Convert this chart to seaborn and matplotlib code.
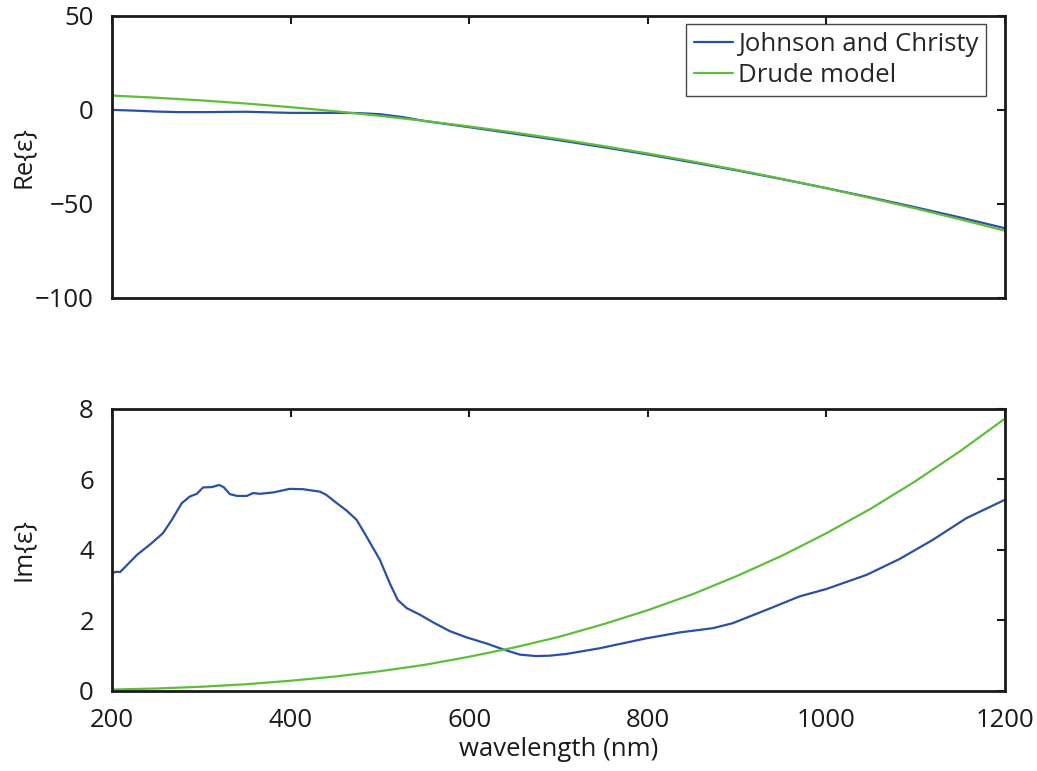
import numpy as np
import pandas as pd
import matplotlib
matplotlib.use("Agg")
import matplotlib.pyplot as plt
import seaborn as sns

# Gold permittivity: Johnson & Christy measurements vs. a Drude fit
lam_re_jc = [200, 225, 250, 275, 300, 325, 350, 375, 400, 450, 475, 500, 525, 550,
             600, 650, 700, 750, 800, 850, 900, 950, 1000, 1050, 1100, 1150, 1200]
re_jc = [0.0, -0.4, -0.9, -1.2, -1.2, -1.1, -1.0, -1.3, -1.6, -1.6, -1.7, -2.3, -3.8, -5.9,
         -9.2, -12.6, -16.1, -19.8, -23.7, -27.9, -32.2, -36.8, -41.6, -46.6, -51.8, -57.2, -62.9]

lam_drude = [200, 250, 300, 350, 400, 450, 500, 550, 600, 650, 700, 750, 800, 850,
             900, 950, 1000, 1050, 1100, 1150, 1200]
re_drude = [7.6, 6.44, 5.03, 3.37, 1.44, -0.74, -3.18, -5.87, -8.82, -12.02, -15.49,
            -19.21, -23.18, -27.41, -31.90, -36.65, -41.65, -46.91, -52.42, -58.19, -64.22]
im_drude = [0.04, 0.07, 0.12, 0.19, 0.29, 0.41, 0.56, 0.74, 0.97, 1.23, 1.53, 1.89,
            2.29, 2.74, 3.26, 3.83, 4.47, 5.17, 5.95, 6.80, 7.72]

lam_im_jc = [200, 205, 209, 218, 228, 242, 257, 267, 278, 287, 295, 302, 312, 320, 325,
             332, 340, 351, 358, 366, 381, 399, 414, 433, 440, 452, 463, 474, 485, 500,
             511, 520, 530, 545, 560, 578, 597, 619, 638, 657, 675, 690, 709, 746, 798,
             836, 873, 895, 933, 970, 1000, 1045, 1082, 1119, 1157, 1200]
im_jc = [3.34, 3.38, 3.37, 3.60, 3.86, 4.14, 4.47, 4.85, 5.32, 5.51, 5.59, 5.77, 5.78,
         5.84, 5.78, 5.58, 5.53, 5.53, 5.61, 5.59, 5.63, 5.73, 5.72, 5.65, 5.56, 5.32,
         5.11, 4.85, 4.38, 3.72, 3.06, 2.58, 2.35, 2.16, 1.94, 1.70, 1.52, 1.35, 1.18,
         1.03, 0.99, 1.00, 1.05, 1.21, 1.49, 1.66, 1.78, 1.92, 2.30, 2.68, 2.89, 3.29,
         3.74, 4.28, 4.90, 5.42]

series_names = ["Johnson and Christy", "Drude model"]
colors = {"Johnson and Christy": "#2b4fa6", "Drude model": "#5ebe3c"}

x_ticks = [200, 400, 600, 800, 1000, 1200]
re_ticks = [50, 0, -50, -100]
im_ticks = [0, 2, 4, 6, 8]

sns.set_theme(style="white")
plt.rcParams["font.family"] = ["Open Sans", "DejaVu Sans"]
plt.rcParams["axes.unicode_minus"] = True

re_df = pd.concat([
    pd.DataFrame({"wavelength": lam_re_jc, "value": re_jc, "source": series_names[0]}),
    pd.DataFrame({"wavelength": lam_drude, "value": re_drude, "source": series_names[1]}),
])
im_df = pd.concat([
    pd.DataFrame({"wavelength": lam_im_jc, "value": im_jc, "source": series_names[0]}),
    pd.DataFrame({"wavelength": lam_drude, "value": im_drude, "source": series_names[1]}),
])

fig = plt.figure(figsize=(10.37, 7.71), dpi=100)
ax_re = fig.add_axes([0.108, 0.6135, 0.861, 0.366])
ax_im = fig.add_axes([0.108, 0.1038, 0.861, 0.366])

sns.lineplot(data=re_df, x="wavelength", y="value", hue="source", palette=colors,
             hue_order=series_names, linewidth=1.6, ax=ax_re)
sns.lineplot(data=im_df, x="wavelength", y="value", hue="source", palette=colors,
             hue_order=series_names, linewidth=1.6, ax=ax_im, legend=False)

fs = 18.5
ink = "#1a1a1a"
for ax in (ax_re, ax_im):
    ax.set_xlim(200, 1200)
    ax.set_xticks(x_ticks)
    for s in ax.spines.values():
        s.set_visible(True)
        s.set_color(ink)
        s.set_linewidth(2.0)
    ax.tick_params(direction="in", length=6, width=1.5, top=True, right=True,
                   labelsize=fs, colors=ink)
    ax.tick_params(axis="x", pad=12)
    ax.tick_params(axis="y", pad=13)
    ax.grid(False)

ax_re.set_ylim(-100, 50)
ax_re.set_yticks(re_ticks)
ax_re.set_xticklabels([])
ax_re.set_xlabel("")
ax_re.set_ylabel("Re{ε}", fontsize=fs, color=ink)

ax_im.set_ylim(0, 8)
ax_im.set_yticks(im_ticks)
ax_im.set_xlabel("wavelength (nm)", fontsize=fs, color=ink, labelpad=3)
ax_im.set_ylabel("Im{ε}", fontsize=fs, color=ink)

for ax in (ax_re, ax_im):
    ax.yaxis.set_label_coords(-0.085, 0.5)

leg = ax_re.legend(loc="upper right", bbox_to_anchor=(0.9787, 0.9716),
                   borderaxespad=0, fontsize=fs, frameon=True, fancybox=False,
                   handlelength=1.5, handletextpad=0.2, borderpad=0.3,
                   labelspacing=0.25, title=None)
leg.get_frame().set_edgecolor(ink)
leg.get_frame().set_linewidth(1.0)
for line in leg.get_lines():
    line.set_linewidth(1.6)

fig.savefig("out.png", dpi=100)
